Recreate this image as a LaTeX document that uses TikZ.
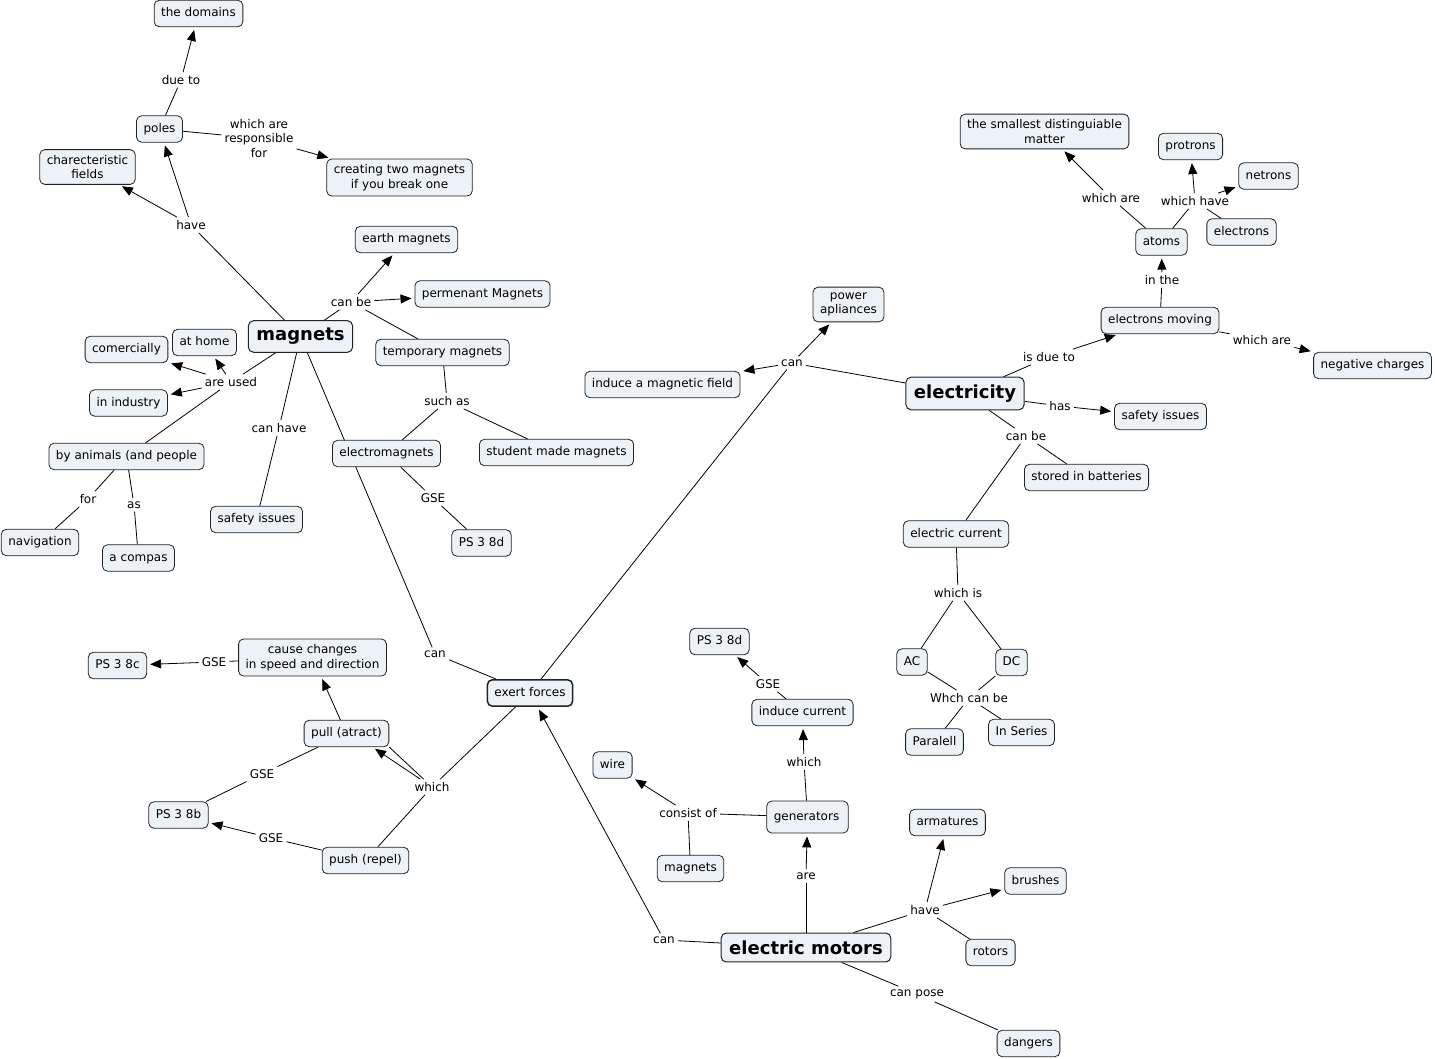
\documentclass[tikz,border=0pt]{standalone}
\usepackage{fontspec}
\setmainfont{DejaVu Sans}
\usetikzlibrary{arrows.meta}
\definecolor{cfill}{RGB}{236,242,245}
\definecolor{cdraw}{RGB}{34,34,34}
\pgfdeclarelayer{bg}
\pgfsetlayers{bg,main}
\begin{document}
\begin{tikzpicture}[x=1pt,y=-1pt,
 cbase/.style={draw=cdraw, fill=cfill, rounded corners=5pt, line width=0.8pt, font=\fontsize{12}{14.5}\selectfont, inner xsep=7pt},
 concept/.style={cbase, text height=9pt, text depth=2.8pt, inner ysep=7.3pt},
 mconcept/.style={cbase, align=center, inner ysep=5.5pt},
 big/.style={cbase, font=\fontsize{18}{20}\selectfont\bfseries, inner xsep=8pt, inner ysep=7.5pt, line width=1pt},
 lbl/.style={font=\fontsize{12}{14.5}\selectfont, inner sep=3pt, align=center},
 link/.style={draw=black, line width=0.8pt},
 arr/.style={link, -{Triangle[length=11pt,width=9pt]}, shorten >=3pt},
]
\useasboundingbox (0,0) rectangle (1435,1059);

% ---------- concepts ----------
\node[concept] (domains) at (198.5,13.5) {the domains};
\node[concept] (poles) at (159.5,129) {poles};
\node[mconcept] (charfields) at (87.5,167) {charecteristic\\fields};
\node[mconcept] (creating) at (399.5,177.5) {creating two magnets\\if you break one};
\node[concept] (earth) at (406.5,239.5) {earth magnets};
\node[concept] (perm) at (482.5,294) {permenant Magnets};
\node[big] (magnets) at (300.5,336.5) {magnets};
\node[concept] (temp) at (442.5,352.5) {temporary magnets};
\node[concept] (comer) at (126.5,349.5) {comercially};
\node[concept] (athome) at (204.5,342.5) {at home};
\node[concept] (industry) at (128.5,403) {in industry};
\node[concept] (animals) at (126.5,456.5) {by animals (and people};
\node[concept] (electro) at (386.5,453.5) {electromagnets};
\node[concept] (student) at (556.5,452.5) {student made magnets};
\node[concept] (safetyL) at (256.5,519.5) {safety issues};
\node[concept] (navig) at (40,542.5) {navigation};
\node[concept] (compas) at (138.5,558) {a compas};
\node[concept] (ps8dL) at (481.5,543) {PS 3 8d};
\node[mconcept] (cause) at (312.5,657.5) {cause changes\\in speed and direction};
\node[concept] (ps8c) at (117.5,665.5) {PS 3 8c};
\node[concept, line width=1.5pt] (exert) at (530,693) {exert forces};
\node[concept] (pull) at (346.5,733.5) {pull (atract)};
\node[concept] (ps8b) at (178.5,815) {PS 3 8b};
\node[concept] (push) at (365.5,860.5) {push (repel)};
\node[concept] (inducemag) at (662.5,384.5) {induce a magnetic field};
\node[mconcept] (power) at (848.5,304.5) {power\\apliances};
\node[big] (elec) at (965,393.5) {electricity};
\node[mconcept] (smallest) at (1044.5,131.5) {the smallest distinguiable\\matter};
\node[concept] (protrons) at (1190.5,146.5) {protrons};
\node[concept] (netrons) at (1268.5,176) {netrons};
\node[concept] (atoms) at (1161.5,242) {atoms};
\node[concept] (electrons) at (1241.5,232) {electrons};
\node[concept] (emoving) at (1160,320.5) {electrons moving};
\node[concept] (negative) at (1372.5,365.5) {negative charges};
\node[concept] (safetyR) at (1160.5,416.5) {safety issues};
\node[concept] (stored) at (1086.5,477.5) {stored in batteries};
\node[concept] (current) at (956,534) {electric current};
\node[concept] (AC) at (912,662) {AC};
\node[concept] (DC) at (1011.5,662.5) {DC};
\node[concept] (paralell) at (934.5,742) {Paralell};
\node[concept] (series) at (1021.5,732.5) {In Series};
\node[concept] (ps8dM) at (719.5,641.5) {PS 3 8d};
\node[concept] (inducecur) at (802.5,712.5) {induce current};
\node[concept] (wire) at (612.5,765) {wire};
\node[concept, minimum height=32pt] (generators) at (807.5,817) {generators\,};
\node[concept] (magnetsS) at (690.5,868.5) {magnets};
\node[concept] (armatures) at (947.5,822.5) {armatures};
\node[concept] (brushes) at (1035.5,881) {brushes};
\node[concept] (rotors) at (990.5,952.5) {rotors};
\node[big] (motors) at (806,947.5) {electric motors};
\node[concept] (dangers) at (1028.5,1043.5) {dangers};

% ---------- linking phrases ----------
\node[lbl] (l_dueto) at (181,80) {due to};
\node[lbl] (l_resp) at (259,138.5) {which are\\responsible\\for};
\node[lbl] (l_have) at (191,225) {have};
\node[lbl] (l_canbe) at (351,302) {can be};
\node[lbl] (l_areused) at (231,382) {are used};
\node[lbl] (l_canhave) at (279,428) {can have};
\node[lbl] (l_suchas) at (447,401) {such as};
\node[lbl] (l_for) at (88,499) {for};
\node[lbl] (l_as) at (134,505) {as};
\node[lbl] (l_gse1) at (433,498) {GSE};
\node[lbl] (l_can1) at (435,654) {can};
\node[lbl] (l_gse2) at (214,662) {GSE};
\node[lbl] (l_which1) at (432,787) {which};
\node[lbl] (l_gse3) at (262,774) {GSE};
\node[lbl] (l_gse4) at (271,838) {GSE};
\node[lbl] (l_can2) at (792,363) {can};
\node[lbl] (l_isdue) at (1049,357) {is due to};
\node[lbl] (l_has) at (1060,406) {has};
\node[lbl] (l_canbe2) at (1026,436) {can be};
\node[lbl] (l_whichare1) at (1262,340) {which are};
\node[lbl] (l_inthe) at (1162,280) {in the};
\node[lbl] (l_whichare2) at (1111,198) {which are};
\node[lbl] (l_whichhave) at (1195,201) {which have};
\node[lbl] (l_whichis) at (958,593) {which is};
\node[lbl] (l_whch) at (969,698) {Whch can be};
\node[lbl] (l_gse5) at (768,684) {GSE};
\node[lbl] (l_which2) at (804,762) {which};
\node[lbl] (l_consist) at (688,813) {consist of};
\node[lbl] (l_are) at (806,876) {are};
\node[lbl] (l_have2) at (925,910) {have};
\node[lbl] (l_can3) at (664,940) {can};
\node[lbl] (l_canpose) at (917,994) {can pose};

% ---------- connectors ----------
\begin{pgfonlayer}{bg}
\fill[white] (0,0) rectangle (1435,1059);
% poles
\draw[link] (poles) -- (l_dueto);
\draw[arr] (l_dueto) -- (domains);
\draw[link] (poles) -- (l_resp);
\draw[arr] (l_resp) -- (creating);
% magnets have
\draw[link] (magnets) -- (l_have);
\draw[arr] (l_have) -- (charfields);
\draw[arr] (l_have) -- (poles);
% magnets can be
\draw[link] (magnets) -- (l_canbe);
\draw[arr] (l_canbe) -- (earth);
\draw[arr] (l_canbe) -- (perm);
\draw[link] (l_canbe) -- (temp);
% are used
\draw[link] (magnets) -- (l_areused);
\draw[arr] (l_areused) -- (comer);
\draw[arr] (l_areused) -- (athome);
\draw[arr] (l_areused) -- (industry);
\draw[link] (l_areused) -- (animals);
\draw[link] (animals) -- (l_for);
\draw[link] (l_for) -- (navig);
\draw[link] (animals) -- (l_as);
\draw[link] (l_as) -- (compas);
% can have
\draw[link] (magnets) -- (l_canhave);
\draw[link] (l_canhave) -- (safetyL);
% such as
\draw[link] (temp) -- (l_suchas);
\draw[link] (l_suchas) -- (electro);
\draw[link] (l_suchas) -- (student);
\draw[link] (electro) -- (l_gse1);
\draw[link] (l_gse1) -- (ps8dL);
% magnets can exert forces
\draw[link] (magnets) -- (l_can1);
\draw[link] (l_can1) -- (exert);
% exert forces which
\draw[link] (exert) -- (l_which1);
\draw[arr] (l_which1) -- ([xshift=26pt]pull.south);
\draw[link] (pull.south east) -- (l_which1);
\draw[link] (push) -- (l_which1);
\draw[arr] (pull) -- (cause);
\draw[link] (cause) -- (l_gse2);
\draw[arr] (l_gse2) -- (ps8c);
\draw[link] (pull) -- (l_gse3);
\draw[link] (l_gse3) -- (ps8b);
\draw[link] (push) -- (l_gse4);
\draw[arr] (l_gse4) -- (ps8b);
% electricity can
\draw[link] (elec) -- (l_can2);
\draw[link] (exert) -- (l_can2);
\draw[arr] (l_can2) -- (inducemag);
\draw[arr] (l_can2) -- (power);
% electricity
\draw[link] (elec) -- (l_isdue);
\draw[arr] (l_isdue) -- (emoving);
\draw[link] (elec) -- (l_has);
\draw[arr] (l_has) -- (safetyR);
\draw[link] (elec) -- (l_canbe2);
\draw[link] (l_canbe2) -- (stored);
\draw[link] (l_canbe2) -- (current);
\draw[link] (emoving) -- (l_whichare1);
\draw[arr] (l_whichare1) -- (negative);
\draw[link] (emoving) -- (l_inthe);
\draw[arr] (l_inthe) -- (atoms);
\draw[link] (atoms) -- (l_whichare2);
\draw[arr] (l_whichare2) -- (smallest);
\draw[link] (atoms) -- (l_whichhave);
\draw[arr] (l_whichhave) -- (protrons);
\draw[arr] (l_whichhave) -- (netrons);
\draw[link] (l_whichhave) -- (electrons);
\draw[link] (current) -- (l_whichis);
\draw[link] (l_whichis) -- (AC);
\draw[link] (l_whichis) -- (DC);
\draw[link] (AC) -- (l_whch);
\draw[link] (DC) -- (l_whch);
\draw[link] (l_whch) -- (paralell);
\draw[link] (l_whch) -- (series);
% electric motors
\draw[link] (motors) -- (l_can3);
\draw[arr] (l_can3) -- (exert);
\draw[link] (motors) -- (l_are);
\draw[arr] (l_are) -- (generators);
\draw[link] (generators) -- (l_which2);
\draw[arr] (l_which2) -- (inducecur);
\draw[link] (inducecur) -- (l_gse5);
\draw[arr] (l_gse5) -- (ps8dM);
\draw[link] (generators) -- (l_consist);
\draw[arr] (l_consist) -- (wire);
\draw[link] (l_consist) -- (magnetsS);
\draw[link] (motors) -- (l_have2);
\draw[arr] (l_have2) -- (armatures);
\draw[arr] (l_have2) -- (brushes);
\draw[link] (l_have2) -- (rotors);
\draw[link] (motors) -- (l_canpose);
\draw[link] (l_canpose) -- (dangers);
\end{pgfonlayer}
\end{tikzpicture}
\end{document}
